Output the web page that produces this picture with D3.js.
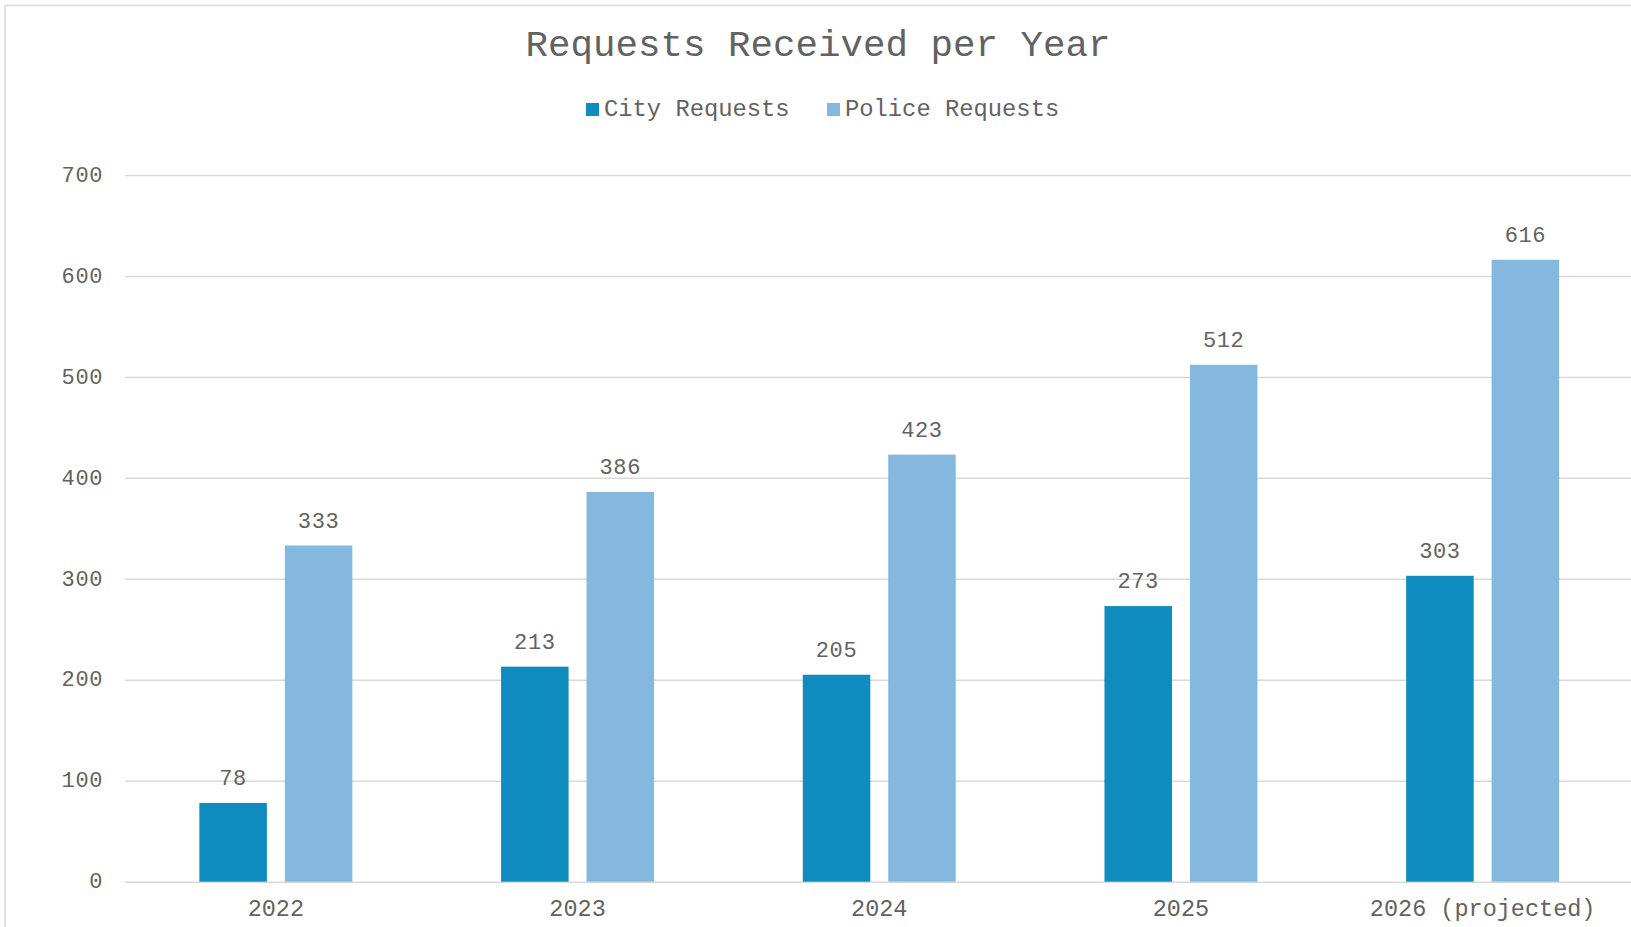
<!DOCTYPE html>
<html>
<head>
<meta charset="utf-8">
<script src="https://cdn.jsdelivr.net/npm/d3@7"></script>
<style>
  html, body { margin: 0; padding: 0; background: #fff; overflow: hidden; }
  svg { display: block; }
  text { font-family: "Liberation Mono", "Courier New", monospace; fill: #626262; }
</style>
</head>
<body>
<svg id="chart" width="1631" height="927"></svg>
<script>
// ---- data ----
const categories = ["2022", "2023", "2024", "2025", "2026 (projected)"];
const seriesNames = ["City Requests", "Police Requests"];
const cityRequests = [78, 213, 205, 273, 303];
const policeRequests = [333, 386, 423, 512, 616];
const yTicks = [0, 100, 200, 300, 400, 500, 600, 700];
const seriesColors = ["#0e8bbf", "#85b8df"];
const titleText = "Requests Received per Year";

const seriesValues = [cityRequests, policeRequests];

const svg = d3.select("#chart");
const W = 1631, H = 927;
const textColor = "#626262";
const fontStack = '"Liberation Mono", "Courier New", monospace';

// outer chart border
svg.append("rect")
  .attr("x", 5).attr("y", 5.5)
  .attr("width", W + 20).attr("height", H + 20)
  .attr("fill", "#fff")
  .attr("stroke", "#d9d9d9").attr("stroke-width", 1.5);

const plotLeft = 125, step = 301.7;
const plotRight = plotLeft + step * categories.length;
const yTop = 175, yBottom = 881.7;

const x = d3.scaleBand()
  .domain(categories)
  .range([plotLeft, plotRight])
  .paddingInner(0.493)
  .paddingOuter(0.2465);

const xs = d3.scaleBand()
  .domain(seriesNames)
  .range([0, x.bandwidth()])
  .paddingInner(0.21)
  .paddingOuter(0);

const y = d3.scaleLinear().domain([0, 700]).range([yBottom, yTop]);

// y axis + gridlines
const yAxis = svg.append("g")
  .attr("transform", `translate(${plotLeft},0)`)
  .call(d3.axisLeft(y).tickValues(yTicks).tickSize(-(plotRight - plotLeft)).tickPadding(22));
yAxis.select(".domain").remove();
yAxis.selectAll(".tick line").attr("stroke", "#d9d9d9").attr("stroke-width", 1.5);
yAxis.selectAll(".tick text")
  .attr("font-size", 22).attr("dy", "0.28em")
  .attr("letter-spacing", 0.6)
  .style("font-family", fontStack)
  .style("fill", textColor);

// bars
const groups = svg.append("g").selectAll("g")
  .data(categories)
  .join("g")
  .attr("transform", d => `translate(${x(d)},0)`);

groups.selectAll("rect")
  .data((d, i) => seriesNames.map((s, j) => ({ s, v: seriesValues[j][i], j })))
  .join("rect")
  .attr("x", d => xs(d.s))
  .attr("width", xs.bandwidth())
  .attr("y", d => y(d.v))
  .attr("height", d => y(0) - y(d.v))
  .attr("fill", d => seriesColors[d.j]);

groups.selectAll("text.val")
  .data((d, i) => seriesNames.map((s, j) => ({ s, v: seriesValues[j][i], j })))
  .join("text")
  .attr("class", "val")
  .attr("x", d => xs(d.s) + xs.bandwidth() / 2)
  .attr("y", d => y(d.v) - 18)
  .attr("text-anchor", "middle")
  .attr("font-size", 22)
  .attr("letter-spacing", 0.6)
  .text(d => d.v);

// x axis
const xAxis = svg.append("g")
  .attr("transform", `translate(0,${yBottom})`)
  .call(d3.axisBottom(x).tickSize(0).tickPadding(17.5));
xAxis.select(".domain").remove();
xAxis.selectAll(".tick text")
  .attr("font-size", 23.5)
  .style("font-family", fontStack)
  .style("fill", textColor);

// title
svg.append("text")
  .attr("x", 818).attr("y", 56)
  .attr("text-anchor", "middle")
  .attr("font-size", 37.5)
  .text(titleText);

// legend
const legendItems = [
  { name: seriesNames[0], color: seriesColors[0], x: 586 },
  { name: seriesNames[1], color: seriesColors[1], x: 827 }
];
const lg = svg.append("g");
legendItems.forEach(it => {
  lg.append("rect").attr("x", it.x).attr("y", 103).attr("width", 13).attr("height", 13).attr("fill", it.color);
  lg.append("text").attr("x", it.x + 18).attr("y", 116).attr("font-size", 23.8).text(it.name);
});
</script>
</body>
</html>
